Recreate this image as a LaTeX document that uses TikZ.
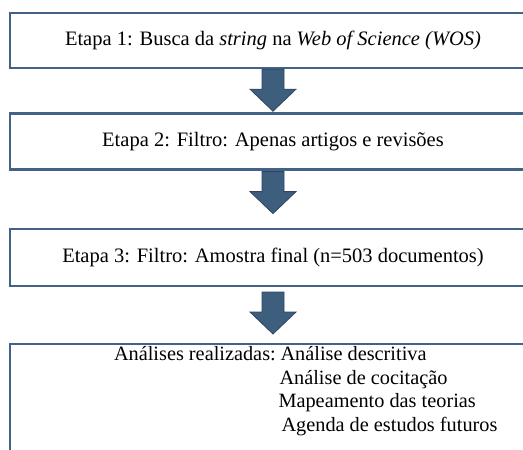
\documentclass[tikz,border=0pt]{standalone}
\usepackage{fontspec}
\setmainfont{Liberation Serif}
\usepackage{tikz}
\usetikzlibrary{positioning,calc}

\definecolor{boxline}{RGB}{66,99,135}
\definecolor{arrowfill}{RGB}{62,94,126}
\definecolor{arrowline}{RGB}{45,70,98}

\tikzset{
  etapa/.style={draw=boxline,line width=2.4pt,minimum width=526pt,inner sep=0pt,font=\fontsize{20.5}{24}\selectfont},
  blockarrow/.style={fill=arrowfill,draw=arrowline,line width=0.8pt,line join=miter}
}

% block arrow below node #1, shifted down by #2
\newcommand{\blockdown}[2]{
  \draw[blockarrow] ($(#1.south)+(-11pt,-#2)$) -- ++(22pt,0) -- ++(0,-20pt) -- ++(12pt,0)
    -- ++(-23pt,-22pt) -- ++(-23pt,22pt) -- ++(12pt,0) -- cycle;
}

\begin{document}
\begin{tikzpicture}[x=1pt,y=1pt]
\useasboundingbox (0,0) rectangle (523,-450);

\node[etapa, minimum height=55pt] (s1) at (273,-40.5) {Etapa 1: Busca da \textit{string} na \textit{Web of Science (WOS)}};
\node[etapa, minimum height=56pt] (s2) [below=43pt of s1] {Etapa 2: Filtro: Apenas artigos e revisões};
\node[etapa, minimum height=57pt] (s3) [below=57pt of s2] {Etapa 3: Filtro: Amostra final (n=503 documentos)};
\node[etapa, minimum height=140pt] (s4) [below=56pt of s3] {};
\node[font=\fontsize{20.3}{23.8}\selectfont, align=left, anchor=north west, inner sep=0pt] (t4) at ($(s4.north west)+(105,-3)$)
  {Análises realizadas:\hspace{-2pt} Análise descritiva\\
   \phantom{Análises realizadas: }\hspace{-3pt}Análise de cocitação\\
   \phantom{Análises realizadas: }\hspace{-4pt}Mapeamento das teorias\\
   \phantom{Análises realizadas: }\hspace{-1pt}Agenda de estudos futuros};

\blockdown{s1}{0pt}
\blockdown{s2}{1pt}
\blockdown{s3}{5pt}
\end{tikzpicture}
\end{document}
